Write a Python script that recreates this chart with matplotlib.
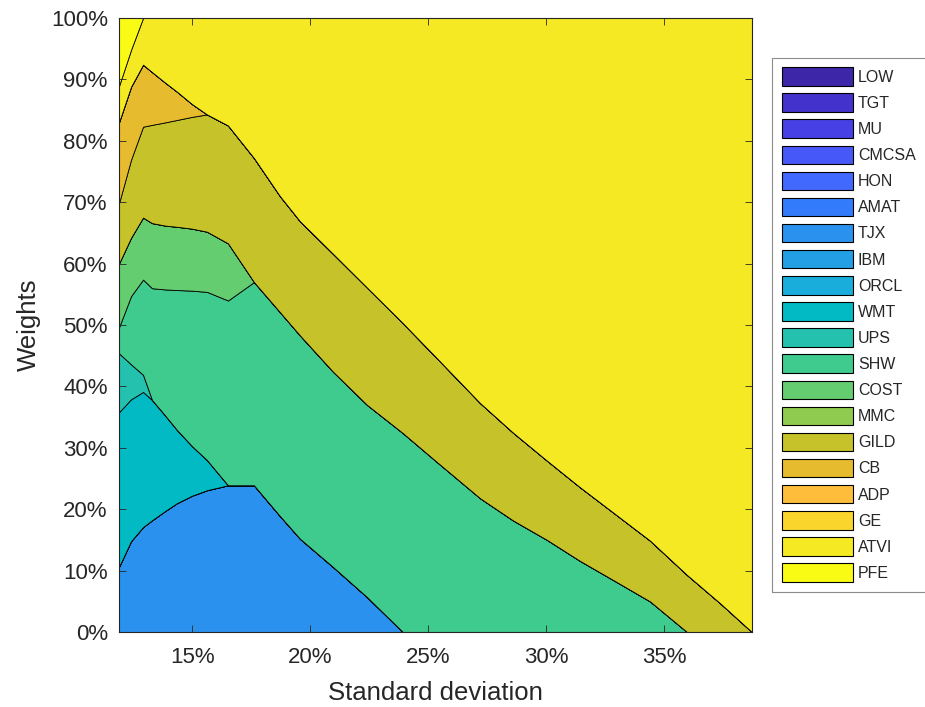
import numpy as np
import matplotlib
matplotlib.use("Agg")
import matplotlib.pyplot as plt
from matplotlib.patches import Patch, Rectangle
from matplotlib.ticker import PercentFormatter

# --------------------------------------------------------------------------- #
# Dados: pesos (%) ao longo da fronteira eficiente
# --------------------------------------------------------------------------- #
sd = [11.90, 12.41, 12.92, 13.30, 13.85, 14.36, 14.99, 15.63, 16.52, 17.62, 18.72,
      19.57, 20.97, 22.41, 23.93, 25.37, 27.20, 28.59, 30.04, 31.43, 32.83, 34.40,
      35.97, 37.37, 38.72]

tickers = ["LOW", "TGT", "MU", "CMCSA", "HON", "AMAT", "TJX", "IBM", "ORCL", "WMT",
           "UPS", "SHW", "COST", "MMC", "GILD", "CB", "ADP", "GE", "ATVI", "PFE"]

tjx = [10.6, 14.8, 17.1, 18.2, 19.7, 21.0, 22.2, 23.1, 23.9, 23.9, 18.9, 15.2,
       10.6, 5.7, 0, 0, 0, 0, 0, 0, 0, 0, 0, 0, 0]
wmt = [25.2, 23.1, 22.0, 19.6, 15.6, 11.9, 8.1, 4.9, 0, 0, 0, 0,
       0, 0, 0, 0, 0, 0, 0, 0, 0, 0, 0, 0, 0]
ups = [9.6, 5.7, 2.8, 0, 0, 0, 0, 0, 0, 0, 0, 0,
       0, 0, 0, 0, 0, 0, 0, 0, 0, 0, 0, 0, 0]
shw = [4.2, 11.1, 15.5, 18.2, 20.5, 22.8, 25.3, 27.4, 30.1, 33.1, 33.2, 33.1,
       31.8, 31.3, 32.4, 27.7, 21.8, 18.2, 15.0, 11.6, 8.5, 5.0, 0, 0, 0]
cost = [10.4, 9.5, 10.1, 10.6, 10.4, 10.3, 10.1, 9.8, 9.3, 0, 0, 0,
        0, 0, 0, 0, 0, 0, 0, 0, 0, 0, 0, 0, 0]
gild = [9.8, 12.7, 14.8, 16.0, 16.8, 17.4, 18.2, 19.1, 19.2, 20.2, 18.9, 18.6,
        19.2, 19.1, 17.9, 16.9, 15.5, 14.3, 12.9, 12.0, 11.0, 9.9, 9.3, 4.7, 0]
cb = [13.2, 11.9, 10.1, 8.6, 6.5, 4.6, 2.1, 0, 0, 0, 0, 0,
      0, 0, 0, 0, 0, 0, 0, 0, 0, 0, 0, 0, 0]
atvi = [5.9, 6.0, 7.6, 8.8, 10.5, 12.0, 14.0, 15.7, 17.5, 22.8, 29.0, 33.1,
        38.4, 43.9, 49.7, 55.4, 62.7, 67.5, 72.1, 76.4, 80.5, 85.1, 90.7, 95.3,
        100.0]
pfe = [11.1, 5.2, 0, 0, 0, 0, 0, 0, 0, 0, 0, 0,
       0, 0, 0, 0, 0, 0, 0, 0, 0, 0, 0, 0, 0]

# os demais ativos tem peso nulo em toda a fronteira
nonzero = {"TJX": tjx, "WMT": wmt, "UPS": ups, "SHW": shw, "COST": cost,
           "GILD": gild, "CB": cb, "ATVI": atvi, "PFE": pfe}

# parula (MATLAB) amostrado em 20 cores
parula20 = [
    (0.2422, 0.1504, 0.6603), (0.2647, 0.1978, 0.7952), (0.2783, 0.2559, 0.8991),
    (0.2795, 0.3447, 0.9717), (0.2602, 0.4123, 0.9952), (0.1963, 0.4847, 0.9892),
    (0.1687, 0.5703, 0.9359), (0.1380, 0.6276, 0.8973), (0.0952, 0.6798, 0.8598),
    (0.0067, 0.7312, 0.7660), (0.1408, 0.7584, 0.6842), (0.2470, 0.7918, 0.5567),
    (0.3909, 0.8029, 0.4354), (0.5616, 0.7942, 0.3045), (0.7738, 0.7598, 0.1646),
    (0.9035, 0.7330, 0.1774), (0.9956, 0.7434, 0.2371), (0.9786, 0.8386, 0.1766),
    (0.9597, 0.9135, 0.1423), (0.9769, 0.9839, 0.0805),
]

TXT = (0.15, 0.15, 0.15)
plt.rcParams["font.family"] = ["Liberation Sans", "DejaVu Sans"]

fig = plt.figure(figsize=(9.25, 7.07), dpi=100)
ax = fig.add_axes([0.1286, 0.106, 0.6843, 0.8685])

series = [np.asarray(nonzero.get(t, np.zeros(len(sd))), dtype=float) for t in tickers]
ax.stackplot(sd, *series, colors=parula20, edgecolor="k", linewidth=0.6)

ax.set_xlim(sd[0], sd[-1])
ax.set_ylim(0, 100)
ax.set_xticks([15, 20, 25, 30, 35])
ax.set_yticks(np.arange(0, 101, 10))
ax.xaxis.set_major_formatter(PercentFormatter(xmax=100, decimals=0))
ax.yaxis.set_major_formatter(PercentFormatter(xmax=100, decimals=0))
ax.tick_params(direction="in", length=5, width=0.6, top=True, right=True,
               labelsize=16, colors=TXT)
ax.tick_params(axis="x", pad=11)
ax.tick_params(axis="y", pad=8)
for s in ax.spines.values():
    s.set_color(TXT)
    s.set_linewidth(0.8)
ax.set_xlabel("Standard deviation", fontsize=18.5, color=TXT, labelpad=9)
ax.set_ylabel("Weights", fontsize=18.5, color=TXT, labelpad=7)

# legenda estilo MATLAB (caixa cortada pela borda direita)
handles = [Patch(facecolor=c, edgecolor="k", linewidth=0.8) for c in parula20]
leg = fig.legend(handles, tickers, loc="upper left", bbox_to_anchor=(0.845, 0.905),
                 bbox_transform=fig.transFigure, borderaxespad=0, borderpad=0,
                 fontsize=11.5, handlelength=4.44, handleheight=1.4,
                 labelspacing=0.48, handletextpad=0.33, frameon=False)
for t in leg.get_texts():
    t.set_color(TXT)
fig.add_artist(Rectangle((0.8346, 0.1627), 0.18, 0.7553, transform=fig.transFigure,
                         facecolor="none", edgecolor=(0.55, 0.55, 0.55),
                         linewidth=0.8, zorder=0))

fig.savefig("out.png", dpi=100)
